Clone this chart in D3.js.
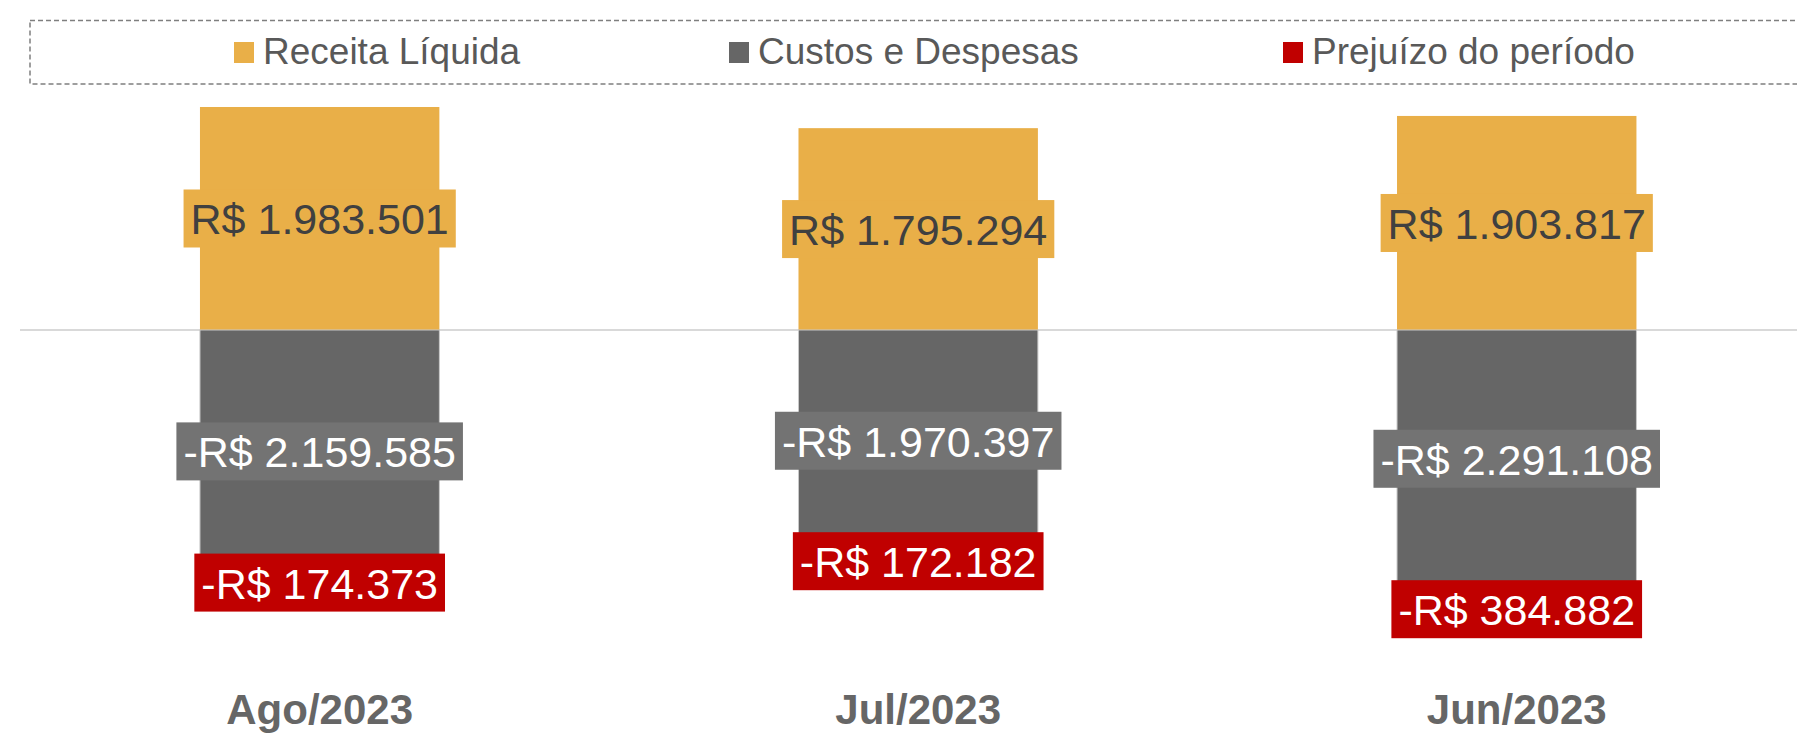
<!DOCTYPE html>
<html><head><meta charset="utf-8">
<script src="https://cdn.jsdelivr.net/npm/d3@7"></script>
<style>html,body{margin:0;padding:0;background:#fff;overflow:hidden}</style>
</head><body>
<svg id="chart" width="1797" height="734"></svg>
<script>
const categories = ["Ago/2023", "Jul/2023", "Jun/2023"];
const receita = [1983501, 1795294, 1903817];
const custos = [-2159585, -1970397, -2291108];
const prejuizo = [-174373, -172182, -384882];
const seriesNames = ["Receita Líquida", "Custos e Despesas", "Prejuízo do período"];
const colors = ["#E9AF48", "#666666", "#C00000"];

const W = 1797, H = 734;
const font = "'Liberation Sans', Arial, sans-serif";
const svg = d3.select("#chart");

const locale = d3.formatLocale({decimal: ",", thousands: ".", grouping: [3], currency: ["R$ ", ""], minus: "-"});
const fmt = locale.format("$,.0f");

const x = d3.scaleBand().domain(categories).range([20.4, 1816]).paddingInner(0.6).paddingOuter(0.3);
const y = d3.scaleLinear().domain([-3593500, 2935200]).range([H, 0]);

// zero line
svg.append("line").attr("x1", 20).attr("x2", W).attr("y1", y(0)).attr("y2", y(0))
  .attr("stroke", "#d9d9d9").attr("stroke-width", 2);

const rows = categories.map((c, i) => ({c, r: receita[i], k: custos[i], p: prejuizo[i]}));

// bars
const segs = [];
rows.forEach(d => {
  segs.push({c: d.c, y0: 0, y1: d.r, v: d.r, s: 0});
  segs.push({c: d.c, y0: 0, y1: d.k, v: d.k, s: 1});
  segs.push({c: d.c, y0: d.k, y1: d.k + d.p, v: d.p, s: 2});
});
svg.append("g").selectAll("rect").data(segs).join("rect")
  .attr("x", d => x(d.c))
  .attr("width", x.bandwidth())
  .attr("y", d => Math.min(y(d.y0), y(d.y1)))
  .attr("height", d => Math.abs(y(d.y0) - y(d.y1)))
  .attr("fill", d => colors[d.s])
  .attr("stroke", d => d.s === 1 ? "#c8c8c8" : "none")
  .attr("stroke-width", 1);

// labels
const labelBg = ["#E9AF48", "#737373", "#C00000"];
const labelFg = ["#404040", "#ffffff", "#ffffff"];
const fs = 43;
const lg = svg.append("g");
segs.forEach(d => {
  const cx = x(d.c) + x.bandwidth() / 2;
  const cy = (y(d.y0) + y(d.y1)) / 2;
  const g = lg.append("g");
  const rect = g.append("rect");
  const t = g.append("text").attr("x", cx).attr("y", cy + 16)
    .attr("text-anchor", "middle").attr("font-family", font).attr("font-size", fs)
    .attr("fill", labelFg[d.s]).text(fmt(d.v));
  const w = t.node().getComputedTextLength();
  rect.attr("x", cx - w / 2 - 7).attr("width", w + 14)
    .attr("y", cy - 29).attr("height", 58).attr("fill", labelBg[d.s]);
});

// x axis labels
svg.append("g").selectAll("text").data(categories).join("text")
  .attr("x", d => x(d) + x.bandwidth() / 2).attr("y", 724)
  .attr("text-anchor", "middle").attr("font-family", font).attr("font-size", 42)
  .attr("font-weight", "bold").attr("fill", "#666666").text(d => d);

// legend
svg.append("rect").attr("x", 30).attr("y", 20.5).attr("width", 1800).attr("height", 63.5)
  .attr("fill", "none").attr("stroke", "#7f7f7f").attr("stroke-width", 1.5).attr("stroke-dasharray", "5,3");
const legX = [234, 729, 1283];
const leg = svg.append("g").selectAll("g").data(seriesNames).join("g")
  .attr("transform", (d, i) => `translate(${legX[i]},0)`);
leg.append("rect").attr("x", 0).attr("y", 42).attr("width", 20).attr("height", 21)
  .attr("fill", (d, i) => colors[i]);
leg.append("text").attr("x", 29).attr("y", 64).attr("font-family", font).attr("font-size", 37)
  .attr("fill", "#595959").text(d => d);
</script>
</body></html>
